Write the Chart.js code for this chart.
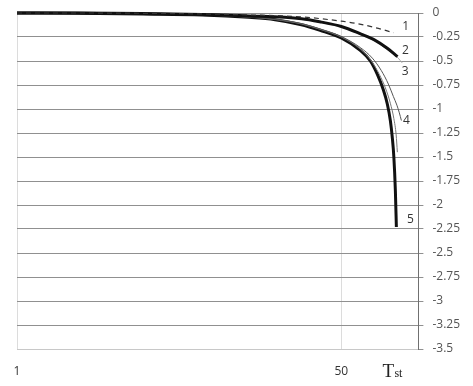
<!DOCTYPE html>
<html>
<head>
<meta charset="utf-8">
<script src="https://cdn.jsdelivr.net/npm/chart.js@4/dist/chart.umd.min.js"></script>
<style>
  html, body { margin: 0; padding: 0; background: #fff; }
  canvas { display: block; }
</style>
</head>
<body>
<canvas id="chart" width="473" height="386"></canvas>
<script>
// x values (time steps) and y values for each curve
const x1 = [1, 10, 20, 29, 36, 44, 47, 50, 52, 55, 57.9];
const y1 = [0, 0, -0.003, -0.01, -0.02, -0.04, -0.06, -0.085, -0.105, -0.15, -0.205];

const x2 = [1, 10, 20, 29, 36, 44, 47, 50, 53, 55, 57, 58.5];
const y2 = [0, 0, -0.005, -0.015, -0.03, -0.06, -0.095, -0.14, -0.22, -0.28, -0.37, -0.455];

const x3 = [1, 10, 20, 29, 36, 44, 47, 50, 53, 55, 57, 58.6, 59.2];
const y3 = [0, 0, -0.005, -0.016, -0.032, -0.063, -0.1, -0.147, -0.228, -0.29, -0.385, -0.47, -0.52];

const x4 = [1, 10, 20, 29, 36, 40, 44, 47, 50, 52.87, 54.69, 56.05, 57.11, 57.87, 58.4, 58.77, 59.08];
const y4 = [0, -0.002, -0.01, -0.02, -0.042, -0.066, -0.11, -0.17, -0.245, -0.36, -0.47, -0.6, -0.74, -0.87, -0.96, -1.04, -1.12];

const x4b = [1, 10, 20, 29, 36, 40, 44, 47, 50, 52.87, 54.54, 55.75, 56.66, 57.41, 57.94, 58.29, 58.47];
const y4b = [0, -0.002, -0.01, -0.02, -0.043, -0.068, -0.115, -0.175, -0.25, -0.375, -0.5, -0.64, -0.78, -0.94, -1.1, -1.27, -1.45];

const x5 = [1, 10, 20, 29, 36, 40, 43.8, 46.8, 50, 52.87, 54.39, 55.45, 56.35, 56.96, 57.41, 57.71, 57.94, 58.17, 58.32];
const y5 = [0, -0.002, -0.01, -0.02, -0.045, -0.07, -0.12, -0.18, -0.26, -0.39, -0.5, -0.64, -0.8, -0.95, -1.12, -1.3, -1.5, -1.85, -2.23];

const xTickValues = [1, 50];
const curveLabels = ['1', '2', '3', '4', '', '5'];

function pts(xs, ys) {
  return xs.map((x, i) => ({ x: x, y: ys[i] }));
}

// label offsets from the end of each curve, in pixels
const labelOffsets = [[12, -6], [8, -6], [3, 9], [5, 0], [0, 0], [14, -8]];

const curveLabelPlugin = {
  id: 'curveLabels',
  afterDatasetsDraw(chart) {
    const ctx = chart.ctx;
    ctx.save();
    ctx.font = '12px "Open Sans", sans-serif';
    ctx.fillStyle = '#333';
    ctx.textAlign = 'center';
    ctx.textBaseline = 'middle';
    chart.data.datasets.forEach((ds, i) => {
      if (!curveLabels[i]) return;
      const meta = chart.getDatasetMeta(i);
      const last = meta.data[meta.data.length - 1];
      ctx.fillText(curveLabels[i], last.x + labelOffsets[i][0], last.y + labelOffsets[i][1]);
    });

    // T_st axis title
    const area = chart.chartArea;
    ctx.textAlign = 'left';
    ctx.textBaseline = 'alphabetic';
    ctx.fillStyle = '#222';
    ctx.font = '19px "Liberation Serif", serif';
    ctx.fillText('T', area.right - 36, area.bottom + 28);
    ctx.font = '12px "Liberation Serif", serif';
    ctx.fillText('st', area.right - 24, area.bottom + 28);
    ctx.restore();
  }
};

const ctx = document.getElementById('chart').getContext('2d');
new Chart(ctx, {
  type: 'line',
  data: {
    datasets: [
      { data: pts(x1, y1), borderColor: '#333', borderWidth: 1.2, borderDash: [5, 4] },
      { data: pts(x2, y2), borderColor: '#111', borderWidth: 3 },
      { data: pts(x3, y3), borderColor: '#aaa', borderWidth: 1 },
      { data: pts(x4, y4), borderColor: '#555', borderWidth: 1 },
      { data: pts(x4b, y4b), borderColor: '#777', borderWidth: 1 },
      { data: pts(x5, y5), borderColor: '#111', borderWidth: 3 }
    ]
  },
  options: {
    responsive: false,
    animation: false,
    events: [],
    layout: { padding: { left: 17, right: 4, top: 13, bottom: 8 } },
    elements: {
      point: { radius: 0 },
      line: { cubicInterpolationMode: 'monotone', fill: false }
    },
    datasets: { line: { clip: 6 } },
    plugins: {
      legend: { display: false },
      tooltip: { enabled: false }
    },
    scales: {
      x: {
        type: 'linear',
        min: 1,
        max: 61.65,
        afterBuildTicks: (axis) => {
          axis.ticks = xTickValues.map(v => ({ value: v }));
        },
        afterFit: (axis) => {
          axis.height = 29;
          axis.paddingLeft = 0;
          axis.paddingRight = 0;
        },
        ticks: {
          autoSkip: false,
          maxRotation: 0,
          padding: 15,
          color: '#333',
          font: { family: '"Open Sans", sans-serif', size: 12 },
          callback: (v) => String(v)
        },
        grid: { color: '#dcdcdc', drawTicks: false },
        border: { color: '#c8c8c8' }
      },
      y: {
        position: 'right',
        min: -3.5,
        max: 0,
        afterFit: (axis) => {
          axis.paddingTop = 0;
          axis.paddingBottom = 0;
        },
        ticks: {
          stepSize: 0.25,
          padding: 9,
          color: '#555',
          font: { family: '"Open Sans", sans-serif', size: 12 },
          callback: (v) => {
            const r = Math.round(v * 100) / 100;
            return r === 0 ? '0' : String(r);
          }
        },
        grid: {
          color: (c) => (c.tick && c.tick.value === -3.5 ? '#c8c8c8' : '#909090'),
          tickLength: 5,
          tickColor: '#909090'
        },
        border: { color: '#707070' }
      }
    }
  },
  plugins: [curveLabelPlugin]
});
</script>
</body>
</html>
